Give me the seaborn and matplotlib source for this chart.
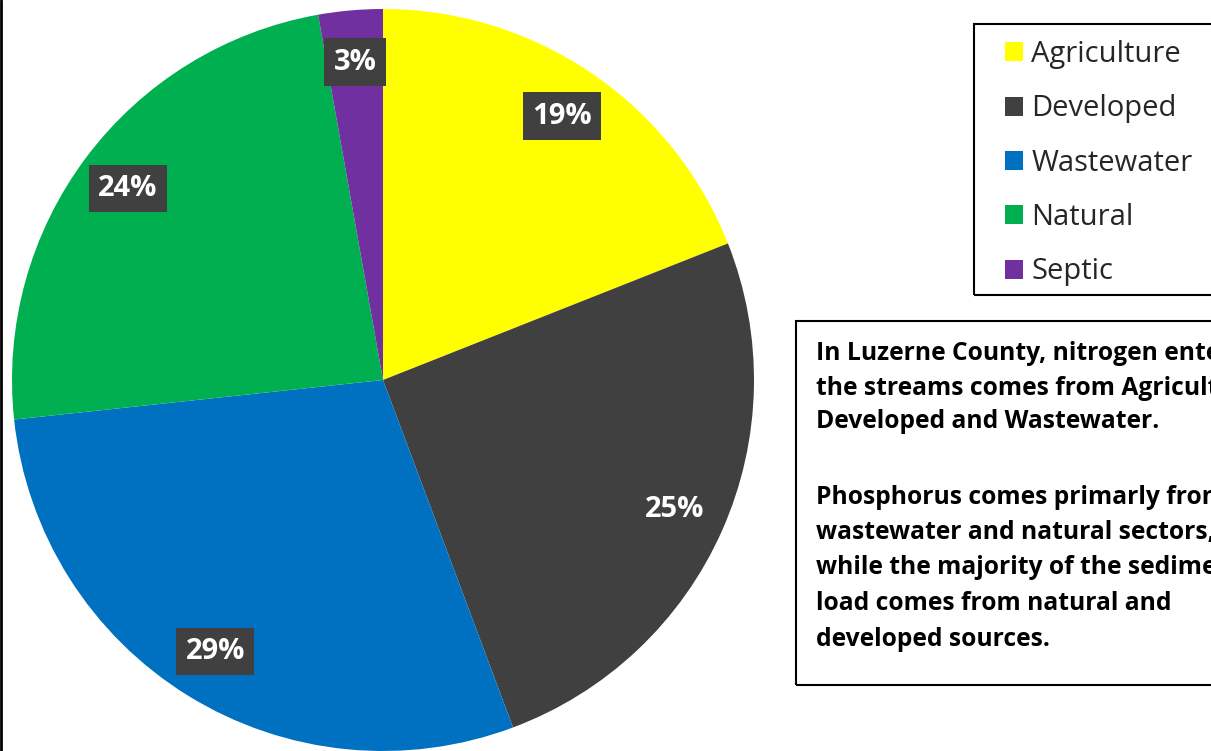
import numpy as np
import matplotlib.pyplot as plt
import seaborn as sns
from matplotlib.patches import Rectangle
from matplotlib.lines import Line2D

# sector shares of nitrogen load (percent)
sectors = ['Agriculture', 'Developed', 'Wastewater', 'Natural', 'Septic']
shares = [19.0, 25.3, 29.0, 23.9, 2.8]
pct_labels = ['19%', '25%', '29%', '24%', '3%']
colors = ['#FFFF00', '#404040', '#0070C0', '#00B050', '#7030A0']

note_lines = ['In Luzerne County, nitrogen entering',
              'the streams comes from Agriculture,',
              'Developed and Wastewater.',
              'Phosphorus comes primarly from',
              'wastewater and natural sectors,',
              'while the majority of the sediment',
              'load comes from natural and',
              'developed sources.']

sns.set_theme(style='white')
plt.rcParams['font.family'] = ['Open Sans', 'DejaVu Sans']

W, H = 1211, 751
fig = plt.figure(figsize=(W / 100, H / 100), dpi=100)
fig.patch.set_facecolor('white')

# pie axes: centre (383, 380) px from top-left, radius 371 px
cx, cy, r = 383, 380, 371
ax = fig.add_axes([(cx - r) / W, (H - cy - r) / H, 2 * r / W, 2 * r / H])
wedges, texts = ax.pie(shares, colors=colors, startangle=90, counterclock=False,
                       labels=pct_labels, labeldistance=0.86,
                       wedgeprops=dict(linewidth=0),
                       textprops=dict(color='white', fontweight='bold', fontsize=21))
for t in texts:
    t.set_ha('center')
    t.set_va('center')
    t.set_bbox(dict(boxstyle='square,pad=0.32', facecolor='#404040', edgecolor='none'))
ax.set_xlim(-1, 1)
ax.set_ylim(-1, 1)
ax.set_aspect('equal')
ax.axis('off')

# legend
handles = [Rectangle((0, 0), 1, 1, facecolor=c, edgecolor='none') for c in colors]
fig.legend(handles, sectors, loc='upper left',
           bbox_to_anchor=(1005 / W, 1 - 40 / H), frameon=False,
           fontsize=21, handlelength=0.62, handleheight=0.62,
           handletextpad=0.28, labelspacing=0.87, borderpad=0, borderaxespad=0)
fig.patches.append(Rectangle((974 / W, 1 - 295 / H), 300 / W, 271 / H,
                             transform=fig.transFigure, facecolor='none',
                             edgecolor='black', linewidth=1.5))

# note box
fig.patches.append(Rectangle((796 / W, 1 - 685 / H), 450 / W, 364 / H,
                             transform=fig.transFigure, facecolor='none',
                             edgecolor='black', linewidth=1.5))
line_y = [354, 388, 421, 497, 532, 567, 603, 639]
for txt, y in zip(note_lines, line_y):
    fig.text(816 / W, 1 - y / H, txt, fontsize=17.7, fontweight='bold',
             color='black', ha='left', va='center')

# left border line
fig.lines.append(Line2D([1 / W, 1 / W], [0, 1], transform=fig.transFigure,
                        color='black', linewidth=2))

fig.savefig('out.png', dpi=100)
